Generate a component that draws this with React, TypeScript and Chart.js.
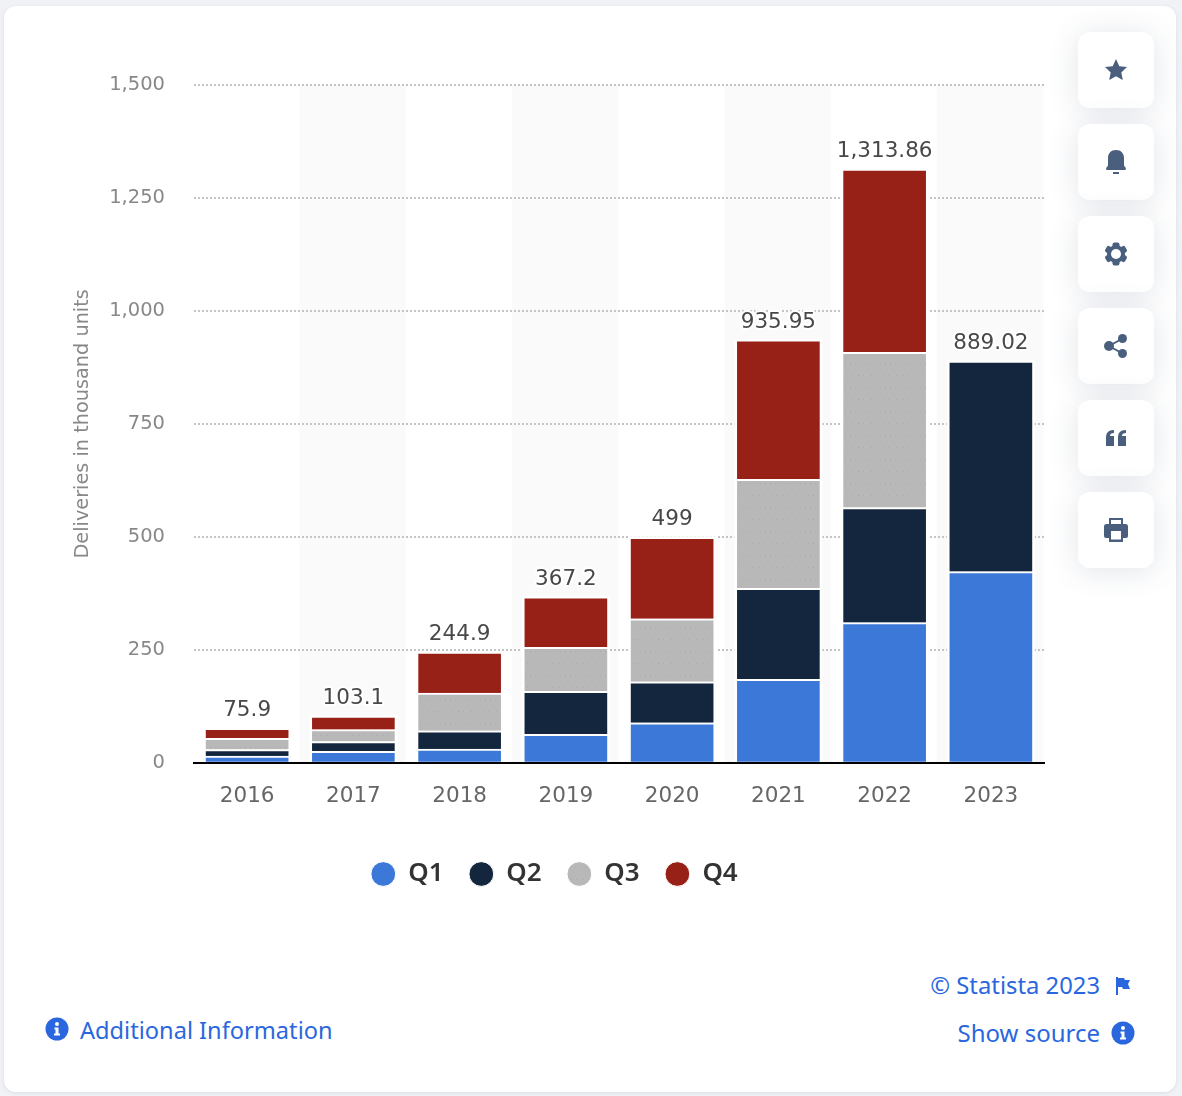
import { useEffect, useRef } from "react";
import { Chart, registerables } from "chart.js";

Chart.register(...registerables);

const years = ["2016", "2017", "2018", "2019", "2020", "2021", "2022", "2023"];
const q1 = [14.8, 25, 30, 63, 88.4, 184.8, 310, 422.9];
const q2 = [14.4, 22, 40.7, 95.2, 90.7, 201.3, 254.7, 466.1];
const q3 = [24.5, 26.2, 83.5, 97, 139.3, 241.3, 343.8, null];
const q4 = [22.2, 29.9, 90.7, 112, 180.6, 308.6, 405.3, null];
const totals = [75.9, 103.1, 244.9, 367.2, 499, 935.95, 1313.86, 889.02];
const yTicks = [0, 250, 500, 750, 1000, 1250, 1500];

const BLUE = "#3c78d8";
const NAVY = "#14263d";
const GREY = "#b8b8b8";
const RED = "#982117";
const LINK = "#2a67de";
const ICON = "#4a5f7e";

// the grey series has a faint dotted texture in the original
const greyPattern = () => {
  const tile = document.createElement("canvas");
  tile.width = 25;
  tile.height = 24;
  const ctx = tile.getContext("2d");
  if (!ctx) return GREY;
  ctx.fillStyle = GREY;
  ctx.fillRect(0, 0, 25, 24);
  ctx.fillStyle = "#aaaaaa";
  [0, 5, 10, 15, 20].forEach((x) => ctx.fillRect(x, 3, 1, 1));
  [2, 8, 13, 21].forEach((x) => ctx.fillRect(x, 15, 1, 1));
  return ctx.createPattern(tile, "repeat") ?? GREY;
};

// alternating column bands, white gap around the stacks, totals above them
const columnPlugin = {
  id: "columns",
  beforeDraw(chart: any) {
    const { ctx, chartArea, scales } = chart;
    const w = scales.x.width / years.length;
    ctx.save();
    ctx.fillStyle = "#fafafa";
    years.forEach((_, i) => {
      if (i % 2 === 0) return;
      ctx.fillRect(scales.x.getPixelForValue(i) - w / 2 - 0.75, chartArea.top, w, chartArea.height);
    });
    ctx.restore();
  },
  beforeDatasetsDraw(chart: any) {
    const { ctx, scales } = chart;
    const bars = chart.getDatasetMeta(0).data;
    ctx.save();
    ctx.fillStyle = "#fff";
    totals.forEach((t, i) => {
      const top = scales.y.getPixelForValue(t);
      ctx.fillRect(bars[i].x - 44, top - 1, 88, scales.y.getPixelForValue(0) - top + 1);
    });
    ctx.restore();
  },
  afterDatasetsDraw(chart: any) {
    const { ctx, scales } = chart;
    const bars = chart.getDatasetMeta(0).data;
    ctx.save();
    ctx.font = '21.5px "DejaVu Sans"';
    ctx.textAlign = "center";
    ctx.textBaseline = "middle";
    ctx.lineJoin = "round";
    ctx.lineWidth = 4;
    ctx.strokeStyle = "#fff";
    ctx.fillStyle = "#484848";
    totals.forEach((t, i) => {
      const label = t.toLocaleString("en-US");
      const y = scales.y.getPixelForValue(t) - 17.5;
      ctx.strokeText(label, bars[i].x, y);
      ctx.fillText(label, bars[i].x, y);
    });
    ctx.restore();
  },
};

const InfoIcon = ({ x, y }: { x: number; y: number }) => (
  <svg width="24" height="24" viewBox="0 0 24 24" style={{ position: "absolute", left: x, top: y }}>
    <circle cx="12" cy="12" r="11.5" fill={LINK} />
    <circle cx="12" cy="7" r="2" fill="#fff" />
    <path d="M9.5 10.5h4v6h1.5v2h-6v-2h1.5v-4h-1z" fill="#fff" />
  </svg>
);

const buttons = [
  <path d="M12 1l3.3 7.2 7.7.9-5.700 5.300 1.500 7.700L12 18.300 5.200 22.100l1.500-7.700L1 9.100l7.700-.9z" />,
  <path d="M12 0c5 0 8 3.500 8 8v7c0 1.500 2 2.500 2 3.500 0 1-.8 1.500-1.800 1.500H3.800C2.800 20 2 19.500 2 18.500c0-1 2-2 2-3.500V8c0-4.500 3-8 8-8zM9 22h6v2H9z" />,
  <g>
    {[0, 60, 120].map((a) => (
      <rect key={a} x="8.500" y="0.500" width="7" height="23" rx="2" transform={`rotate(${a} 12 12)`} />
    ))}
    <circle cx="12" cy="12" r="9" />
    <circle cx="12" cy="12" r="5" fill="#fff" />
  </g>,
  <g>
    <circle cx="5" cy="12" r="5" />
    <circle cx="18.500" cy="4.500" r="4.500" />
    <circle cx="18.500" cy="19.500" r="4.500" />
    <path d="M5 12L18.500 4.500M5 12l13.500 7.500" stroke={ICON} strokeWidth="2" fill="none" />
  </g>,
  <path d="M2 12c0-5 2-8 8-8v3c-3 0-4 1-4 3h4v10H2zM14 12c0-5 2-8 8-8v3c-3 0-4 1-4 3h4v10h-8z" />,
  <path
    fillRule="evenodd"
    d="M5 0h14v6h2.500A2.500 2.500 0 0124 8.500V18a2 2 0 01-2 2h-3v4H5v-4H2a2 2 0 01-2-2V8.500A2.500 2.500 0 012.500 6H5zm2 2v4h10V2zm0 11v8.500h10V13z"
  />,
];

const App = () => {
  const canvasRef = useRef<HTMLCanvasElement>(null);

  useEffect(() => {
    if (!canvasRef.current) return;

    const bar = {
      barThickness: 84,
      borderColor: "#fff",
      borderWidth: { top: 2, left: 1, right: 1, bottom: 0 },
      borderSkipped: false,
    };

    const myChart = new Chart(canvasRef.current, {
      type: "bar",
      data: {
        labels: years,
        datasets: [
          { label: "Q1", data: q1, backgroundColor: BLUE, ...bar },
          { label: "Q2", data: q2, backgroundColor: NAVY, ...bar },
          { label: "Q3", data: q3, backgroundColor: greyPattern(), ...bar },
          { label: "Q4", data: q4, backgroundColor: RED, ...bar },
        ],
      },
      options: {
        responsive: false,
        animation: false,
        layout: { padding: { left: 65, right: 58, top: 85, bottom: 0 } },
        plugins: {
          tooltip: { enabled: false },
          legend: {
            position: "bottom",
            labels: {
              usePointStyle: true,
              pointStyle: "circle",
              boxWidth: 24,
              boxHeight: 17.5,
              padding: 25.7,
              color: "#333",
              font: { family: '"Noto Sans"', size: 26, weight: "600" },
            },
          },
        },
        scales: {
          x: {
            stacked: true,
            grid: { display: false, drawTicks: false },
            border: { color: "#000", width: 2, z: 1 },
            ticks: {
              color: "#666",
              padding: 21,
              maxRotation: 0,
              font: { family: '"DejaVu Sans"', size: 21.5 },
            },
            afterFit: (scale: any) => {
              scale.height = 72.6;
            },
          },
          y: {
            stacked: true,
            min: 0,
            max: 1500,
            afterBuildTicks: (scale: any) => {
              scale.ticks = yTicks.map((value) => ({ value }));
            },
            grid: {
              drawTicks: false,
              lineWidth: 2,
              color: (c: any) => (c.tick.value === 0 ? "transparent" : "#c4c4c4"),
            },
            border: { display: false, dash: [2, 2] },
            ticks: {
              color: "#888",
              padding: 29,
              font: { family: '"DejaVu Sans"', size: 19.5 },
            },
            title: {
              display: true,
              text: "Deliveries in thousand units",
              color: "#888",
              padding: { top: 6, bottom: 0 },
              font: { family: '"DejaVu Sans"', size: 19.3 },
            },
            afterFit: (scale: any) => {
              scale.width = 129;
            },
          },
        },
      },
      plugins: [columnPlugin],
    } as any);

    return () => {
      myChart.destroy();
    };
  }, []);

  return (
    <div
      style={{
        position: "absolute",
        left: 0,
        top: 0,
        width: 1182,
        height: 1096,
        overflow: "hidden",
        background: "#f0f2f6",
        fontFamily: '"Noto Sans", sans-serif',
      }}
    >
      <div
        style={{
          position: "absolute",
          left: 4,
          top: 6,
          width: 1172,
          height: 1086,
          background: "#fff",
          borderRadius: 12,
          boxShadow: "0 1px 4px rgba(70,85,120,.12)",
        }}
      />
      <canvas
        ref={canvasRef}
        width={1102}
        height={897}
        style={{ position: "absolute", left: 0, top: 0 }}
      />
      {buttons.map((icon, i) => (
        <div
          key={i}
          style={{
            position: "absolute",
            left: 1078,
            top: 32 + i * 92,
            width: 76,
            height: 76,
            background: "#fff",
            borderRadius: 12,
            boxShadow: "0 3px 30px rgba(70,85,120,.16)",
          }}
        >
          <svg width="24" height="24" viewBox="0 0 24 24" fill={ICON} style={{ position: "absolute", left: 26, top: 26 }}>
            {icon}
          </svg>
        </div>
      ))}
      <InfoIcon x={45} y={1017} />
      <div style={{ position: "absolute", left: 80, top: 1013, color: LINK, fontSize: 23.6, lineHeight: "34px" }}>
        Additional Information
      </div>
      <div style={{ position: "absolute", right: 82, top: 968, color: LINK, fontSize: 23.8, lineHeight: "34px" }}>
        © Statista 2023
      </div>
      <svg width="16" height="18" viewBox="0 0 16 18" style={{ position: "absolute", left: 1115, top: 977 }}>
        <path d="M1 0h2v18H1zM3 1h6l1 2h5l-2 4 2 5H8l-1-2H3z" fill={LINK} />
      </svg>
      <div style={{ position: "absolute", right: 82, top: 1016, color: LINK, fontSize: 24, lineHeight: "34px" }}>
        Show source
      </div>
      <InfoIcon x={1111} y={1021} />
    </div>
  );
};

export default App;
